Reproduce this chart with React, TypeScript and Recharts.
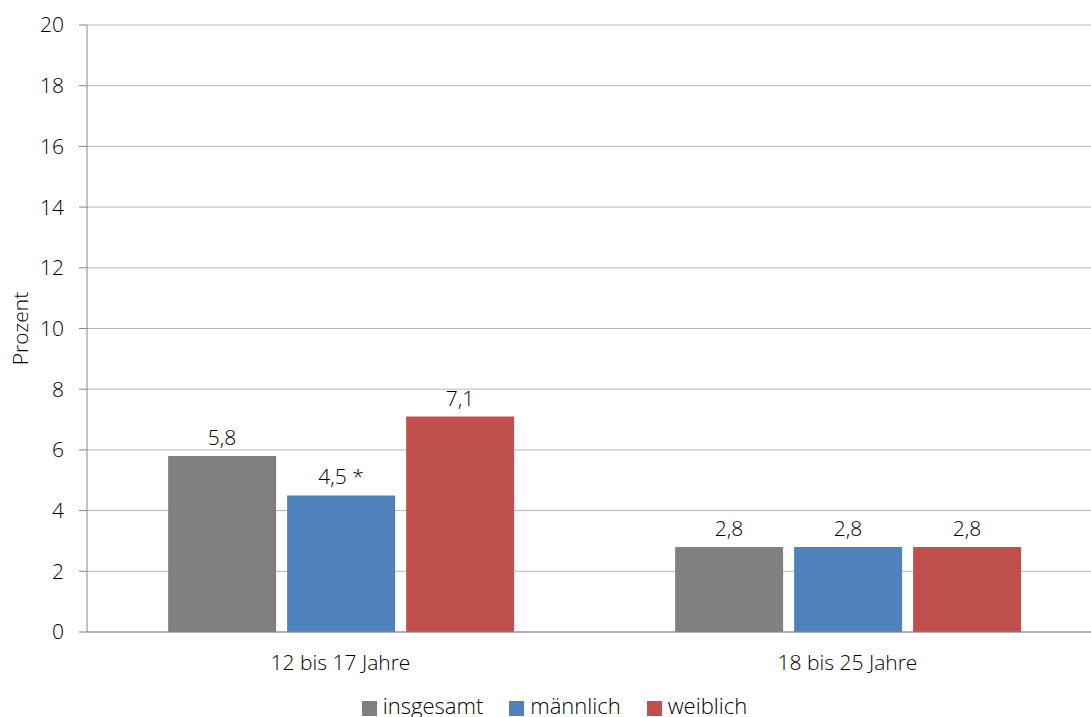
import { Bar, BarChart, CartesianGrid, LabelList, Legend, XAxis, YAxis } from "recharts"

const altersgruppen = ["12 bis 17 Jahre", "18 bis 25 Jahre"]
const insgesamt = [5.8, 2.8]
const maennlich = [4.5, 2.8]
const weiblich = [7.1, 2.8]
// Zusatzzeichen hinter dem Wert (z. B. eingeschränkte Aussagekraft)
const hinweisMaennlich = [" *", ""]
const yTicks = [0, 2, 4, 6, 8, 10, 12, 14, 16, 18, 20]

const FONT = "'Open Sans', 'Noto Sans', sans-serif"
const TEXT = "#000"

const data = altersgruppen.map((name, i) => ({
  name,
  insgesamt: insgesamt[i],
  maennlich: maennlich[i],
  weiblich: weiblich[i],
  hinweis: hinweisMaennlich[i],
}))

const fmt = (v: number) => v.toFixed(1).replace(".", ",")

const labelStyle = { fontSize: 21, fill: TEXT, fontFamily: FONT, fontWeight: 300 }

function ProzentLabel({ viewBox }: any) {
  const x = 20
  const y = viewBox.y + viewBox.height / 2
  return (
    <text
      x={x}
      y={y}
      transform={`rotate(-90, ${x}, ${y})`}
      textAnchor="middle"
      dominantBaseline="central"
      fill={TEXT}
      style={labelStyle}
    >
      Prozent
    </text>
  )
}

export default function App() {
  return (
    <div
      style={{
        position: "absolute",
        left: 0,
        top: 0,
        width: 1091,
        height: 717,
        overflow: "hidden",
        background: "#fff",
      }}
    >
      <BarChart
        width={1110}
        height={732}
        data={data}
        margin={{ top: 25, right: 9, left: 0, bottom: 0 }}
        barCategoryGap="16%"
        barGap={11}
      >
        <CartesianGrid vertical={false} stroke="#b5b5b5" />
        {/* Trennstriche zwischen den Kategorien */}
        <XAxis
          xAxisId="edges"
          type="number"
          domain={[0, 2]}
          ticks={[0, 1, 2]}
          height={0}
          axisLine={false}
          tickSize={8}
          tickLine={{ stroke: "#868686" }}
          tickFormatter={() => ""}
        />
        <XAxis
          xAxisId="cat"
          dataKey="name"
          height={58}
          tickLine={false}
          tickSize={0}
          tickMargin={23}
          axisLine={{ stroke: "#868686" }}
          tick={labelStyle}
        />
        <YAxis
          width={87}
          domain={[0, 20]}
          ticks={yTicks}
          interval={0}
          tickSize={8}
          tickMargin={15}
          axisLine={{ stroke: "#868686" }}
          tickLine={{ stroke: "#868686" }}
          tick={labelStyle}
          label={<ProzentLabel />}
        />
        <Legend
          verticalAlign="bottom"
          iconType="square"
          iconSize={15}
          height={42}
          wrapperStyle={{ left: 17, fontFamily: FONT, fontSize: 22, fontWeight: 300 }}
          formatter={(value: string) => (
            <span style={{ color: TEXT, marginLeft: 2, marginRight: 16 }}>{value}</span>
          )}
        />
        <Bar xAxisId="cat" dataKey="insgesamt" name="insgesamt" fill="#808080" isAnimationActive={false}>
          <LabelList dataKey="insgesamt" position="top" offset={11} formatter={(v: number) => fmt(v)} style={labelStyle} />
        </Bar>
        <Bar xAxisId="cat" dataKey="maennlich" name="männlich" fill="#4f81bd" isAnimationActive={false}>
          <LabelList
            position="top"
            offset={11}
            style={labelStyle}
            valueAccessor={(entry: any) => fmt(entry.payload.maennlich) + entry.payload.hinweis}
          />
        </Bar>
        <Bar xAxisId="cat" dataKey="weiblich" name="weiblich" fill="#c0504d" isAnimationActive={false}>
          <LabelList dataKey="weiblich" position="top" offset={11} formatter={(v: number) => fmt(v)} style={labelStyle} />
        </Bar>
      </BarChart>
    </div>
  )
}
